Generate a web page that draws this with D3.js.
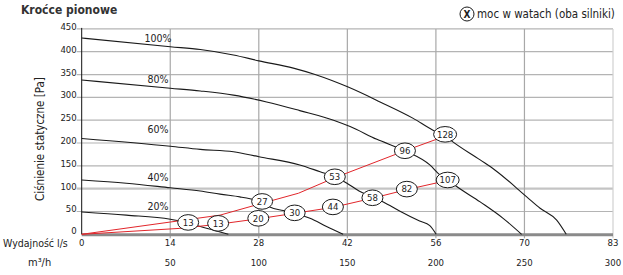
<!DOCTYPE html>
<html>
<head>
<meta charset="utf-8">
<script src="https://cdn.jsdelivr.net/npm/d3@7"></script>
<style>
  body { margin: 0; background: #fff; }
  svg text { font-family: "Liberation Sans Narrow", "DejaVu Sans Condensed", "Noto Sans", sans-serif; fill: #222; }
</style>
</head>
<body>
<div id="chart"></div>
<script>
// Axis ticks
const m3Ticks = [50, 100, 150, 200, 250, 300];
const lsLabels = ['0', '14', '28', '42', '56', '70', '83'];
const paTicks = [0, 50, 100, 150, 200, 250, 300, 350, 400, 450];

// Fan curves [l/s, Pa]
const curve100 = [[0,430],[13.9,411],[18.6,405],[23.8,393],[27.8,380],[33.2,364],[36.6,350],[41.7,323],[46.8,290],[52,254],[55.1,228],[57,216],[57.8,207],[62.5,163],[64.8,141],[69.8,82],[71.9,57],[74.5,31],[76,0]];
const curve80 = [[0,338],[13.9,320],[18.6,314],[23.8,305],[29,290],[34.2,271],[39.5,250],[42.1,236],[46.3,208],[50.7,183],[54.6,152],[56.2,130],[57.5,119],[58.5,108],[62.5,71],[66.1,35],[69,0]];
const curve60 = [[0,210],[13.9,193],[18.6,186],[23.8,181],[27.8,170],[34.2,152],[37.4,137],[39.7,126],[41.6,112],[43.5,95],[45.6,82],[47.3,71],[50,50],[53,29],[54.6,19],[55.6,0]];
const curve40 = [[0,119],[7,112],[13.9,102],[18.6,95],[21.7,88],[24.8,82],[26.4,78],[28.2,71],[29.5,60],[31.6,52],[33.4,46],[35.8,35],[38.4,17],[41,0]];
const curve20 = [[0,49],[7,42],[13.9,33],[16.7,25],[18.6,17],[20.7,9],[23,0]];
const fanCurves = [curve100, curve80, curve60, curve40, curve20];
const fanNames = ['100%', '80%', '60%', '40%', '20%'];
const fanLabelPa = [430, 340, 230, 125, 62];

// System lines (red) [l/s, Pa]
const redUpper = [[0,0],[21.7,42],[28.3,68],[34,90],[39.7,124],[50.7,183],[57,215]];
const redLower = [[0,0],[15.4,13],[21.4,22],[27.7,34],[33.4,46],[39.4,59],[45.6,79],[51,98],[57.4,118]];

// Power labels [l/s, Pa, W]
const powerUpper = [[16.7,26,13],[28.3,72,27],[39.7,126,53],[50.7,183,96],[57,219,128]];
const powerLower = [[21.4,24,13],[27.7,35,20],[33.4,47,30],[39.4,60,44],[45.6,80,58],[51,99,82],[57.4,119,107]];

const width = 623, height = 275;
const svg = d3.select('#chart').append('svg')
    .attr('width', width)
    .attr('height', height);

const x = d3.scaleLinear().domain([0, 300 / 3.6]).range([81.7, 613]);
const y = d3.scaleLinear().domain([0, 450]).range([234.3, 28.9]);

// Grid
svg.append('g').selectAll('line')
    .data(paTicks.filter(d => d > 0))
    .enter().append('line')
    .attr('x1', x(0) - 5).attr('x2', x.range()[1])
    .attr('y1', d => y(d)).attr('y2', d => y(d))
    .style('stroke', d => d === 100 ? '#c4c4c4' : '#b4b4b4')
    .style('stroke-width', d => d === 100 ? 2.2 : 1.2);

svg.append('g').selectAll('line')
    .data(m3Ticks)
    .enter().append('line')
    .attr('x1', d => x(d / 3.6)).attr('x2', d => x(d / 3.6))
    .attr('y1', y(450)).attr('y2', y(0) + 4)
    .style('stroke', d => d === 300 ? '#d0d0d0' : '#a8a8a8')
    .style('stroke-width', 1.2);

// Base line and y axis
svg.append('line')
    .attr('x1', x(0)).attr('x2', x.range()[1])
    .attr('y1', y(0) + 0.5).attr('y2', y(0) + 0.5)
    .style('stroke', '#8a8a8a').style('stroke-width', 3);
svg.append('line')
    .attr('x1', x(0)).attr('x2', x(0))
    .attr('y1', y(450) - 1).attr('y2', y(0))
    .style('stroke', '#111').style('stroke-width', 1);

// Y tick labels
svg.append('g').selectAll('text')
    .data(paTicks)
    .enter().append('text')
    .attr('x', x(0) - 5)
    .attr('y', d => y(d) + (d === 0 ? 0 : 1))
    .attr('text-anchor', 'end')
    .style('font-size', '9.5px')
    .text(d => d);

// X tick labels (l/s and m3/h)
svg.append('g').selectAll('text')
    .data(lsLabels)
    .enter().append('text')
    .attr('x', (d, i) => x(i === 0 ? 0 : m3Ticks[i - 1] / 3.6))
    .attr('y', 246)
    .attr('text-anchor', 'middle')
    .style('font-size', '9.5px')
    .text(d => d);
svg.append('g').selectAll('text')
    .data(m3Ticks)
    .enter().append('text')
    .attr('x', d => x(d / 3.6))
    .attr('y', 266)
    .attr('text-anchor', 'middle')
    .style('font-size', '9.5px')
    .text(d => d);

// Fan curves
const line = d3.line().x(d => x(d[0])).y(d => y(d[1]));
svg.append('g').selectAll('path')
    .data(fanCurves)
    .enter().append('path')
    .attr('d', d => line.curve(d3.curveMonotoneX)(d))
    .style('fill', 'none')
    .style('stroke', '#1a1a1a')
    .style('stroke-width', 1.1);

svg.append('g').selectAll('text')
    .data(fanNames)
    .enter().append('text')
    .attr('x', 158)
    .attr('y', (d, i) => y(fanLabelPa[i]))
    .attr('dy', '0.35em')
    .attr('text-anchor', 'middle')
    .style('font-size', '10.5px')
    .text(d => d);

// Red system lines
const redLine = d3.line().x(d => x(d[0])).y(d => y(d[1]));
svg.append('g').selectAll('path')
    .data([redUpper, redLower])
    .enter().append('path')
    .attr('d', d => redLine(d))
    .style('fill', 'none')
    .style('stroke', '#e2262b')
    .style('stroke-width', 1);

// Power bubbles
const bubbles = svg.append('g').selectAll('g')
    .data(powerUpper.concat(powerLower))
    .enter().append('g')
    .attr('transform', d => `translate(${x(d[0])},${y(d[1])})`);
bubbles.append('ellipse')
    .attr('rx', d => d[2] >= 100 ? 11.5 : 10.5)
    .attr('ry', 7.8)
    .style('fill', '#fff')
    .style('stroke', '#1a1a1a')
    .style('stroke-width', 1);
bubbles.append('text')
    .attr('text-anchor', 'middle')
    .attr('dy', '0.35em')
    .style('font-size', '9.5px')
    .text(d => d[2]);

// Titles
svg.append('text')
    .attr('x', 21).attr('y', 14)
    .style('font-size', '12px')
    .style('font-weight', 'bold')
    .style('fill', '#333')
    .text('Kroćce pionowe');

svg.append('text')
    .attr('transform', 'translate(44,139) rotate(-90)')
    .attr('text-anchor', 'middle')
    .style('font-size', '11.5px')
    .text('Ciśnienie statyczne [Pa]');

svg.append('text')
    .attr('x', 3).attr('y', 247)
    .style('font-size', '10.5px')
    .text('Wydajność l/s');
svg.append('text')
    .attr('x', 28).attr('y', 266)
    .style('font-size', '11px')
    .text('m³/h');

// Legend
svg.append('ellipse')
    .attr('cx', 467).attr('cy', 14)
    .attr('rx', 7).attr('ry', 7)
    .style('fill', '#fff').style('stroke', '#1a1a1a');
svg.append('text')
    .attr('x', 467).attr('y', 17.5)
    .attr('text-anchor', 'middle')
    .style('font-size', '10px')
    .style('font-weight', 'bold')
    .text('X');
svg.append('text')
    .attr('x', 477).attr('y', 18)
    .style('font-size', '11.5px')
    .text('moc w watach (oba silniki)');
</script>
</body>
</html>
